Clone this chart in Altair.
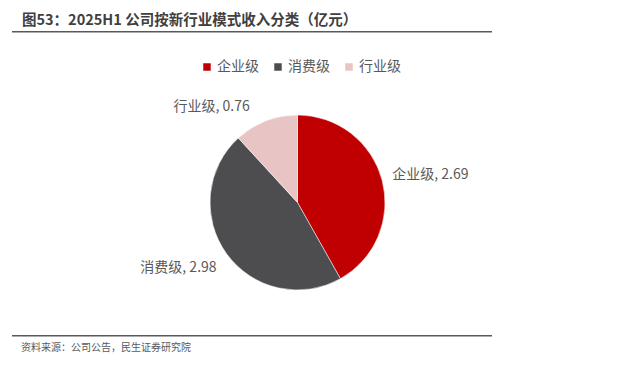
import altair as alt
import pandas as pd

categories = ["企业级", "消费级", "行业级"]
values = [2.69, 2.98, 0.76]
colors = ["#C00000", "#4D4D4F", "#E9C4C4"]
title_text = "图53：2025H1 公司按新行业模式收入分类（亿元）"
source_text = "资料来源：公司公告，民生证券研究院"

FONT = "Noto Sans CJK SC"

df = pd.DataFrame({
    "cat": categories,
    "value": values,
    "idx": list(range(len(categories))),
})
df["label"] = [f"{c}, {v:.2f}" for c, v in zip(categories, values)]

CX, CY, R = 289.5, 194.5, 87.5

base = alt.Chart(df).encode(
    theta=alt.Theta("value:Q", stack=True),
    order=alt.Order("idx:Q"),
    x=alt.value(CX),
    y=alt.value(CY),
)

pie = base.mark_arc(outerRadius=R, stroke="#ffffff", strokeWidth=0.5).encode(
    color=alt.Color(
        "cat:N",
        scale=alt.Scale(domain=categories, range=colors),
        sort=categories,
        legend=alt.Legend(
            title=None,
            orient="none",
            direction="horizontal",
            legendX=192,
            legendY=52,
            symbolType="square",
            symbolSize=56,
            symbolStrokeWidth=0,
            labelFontSize=14,
            labelFont=FONT,
            labelColor="#595959",
            labelOffset=3,
            columnPadding=12,
        ),
    )
)


def label_layer(cat, align, radius, dx=0, dy=0):
    return base.transform_calculate(
        txt=f"datum.cat == '{cat}' ? datum.label : ''"
    ).mark_text(
        radius=radius, align=align, baseline="middle", dx=dx, dy=dy,
        fontSize=14, font=FONT, color="#595959",
    ).encode(text="txt:N")


lab1 = label_layer("企业级", "left", 100, dx=-2, dy=-2)
lab2 = label_layer("消费级", "right", 100, dx=0, dy=7)
lab3 = label_layer("行业级", "right", 104, dx=-10, dy=1)

one = alt.Data(values=[{"k": 1}])

title = alt.Chart(one).mark_text(
    text=title_text, align="left", baseline="middle",
    fontSize=14.5, fontWeight="bold", font=FONT, color="#404040",
).encode(x=alt.value(14), y=alt.value(13))

top_rule = alt.Chart(one).mark_rule(color="#595959", strokeWidth=1.5).encode(
    x=alt.value(4), x2=alt.value(484), y=alt.value(23.7)
)
bottom_rule = alt.Chart(one).mark_rule(color="#595959", strokeWidth=1.5).encode(
    x=alt.value(4), x2=alt.value(484), y=alt.value(327.7)
)
source = alt.Chart(one).mark_text(
    text=source_text, align="left", baseline="middle",
    fontSize=10, font=FONT, color="#595959",
).encode(x=alt.value(13), y=alt.value(340))

chart = alt.layer(
    pie, lab1, lab2, lab3, title, top_rule, bottom_rule, source
).properties(
    width=604, height=352,
    autosize=alt.AutoSizeParams(type="none"),
    padding=0,
).configure_view(stroke=None).resolve_scale(theta="shared")

chart.save("out.html", embed_options={"renderer": "svg", "actions": False})
